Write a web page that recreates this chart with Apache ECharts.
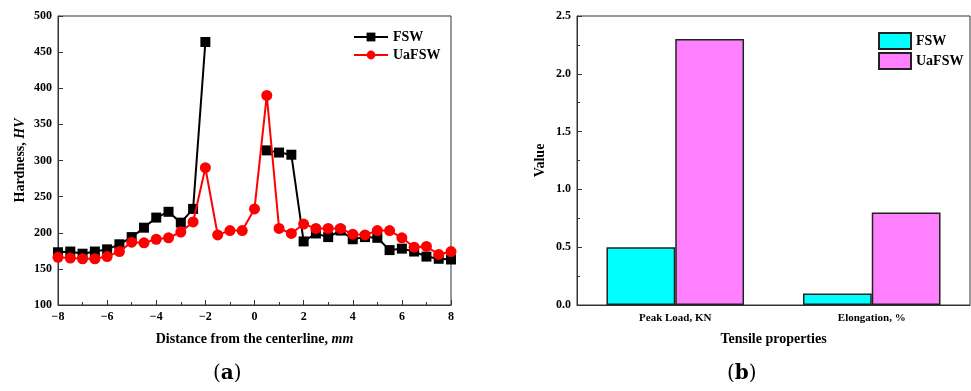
<!DOCTYPE html>
<html>
<head>
<meta charset="utf-8">
<script src="https://cdn.jsdelivr.net/npm/echarts@6/dist/echarts.min.js"></script>
<style>
html,body{margin:0;padding:0;background:#fff;}
#chart{width:971px;height:391px;}
</style>
</head>
<body>
<div id="chart"></div>
<script>
// ---- Data ----
var distances = [-8,-7.5,-7,-6.5,-6,-5.5,-5,-4.5,-4,-3.5,-3,-2.5,-2,-1.5,-1,-0.5,0,0.5,1,1.5,2,2.5,3,3.5,4,4.5,5,5.5,6,6.5,7,7.5,8];
var hardnessFSW = [173,174,171,174,177,184,194,207,221,229,214,233,464,null,null,null,null,314,311,308,188,199,194,203,191,194,193,176,178,174,167,164,163];
var hardnessUaFSW = [166,165,164,164,167,174,187,186,191,193,201,215,290,197,203,203,233,390,206,199,212,206,206,206,198,197,203,203,193,180,181,170,174];
var tensileCategories = ['Peak Load, KN', 'Elongation, %'];
var tensileFSW = [0.5, 0.1];
var tensileUaFSW = [2.3, 0.8];
var seriesNames = ['FSW', 'UaFSW'];

function pairs(xs, ys) {
  return xs.map(function (x, i) { return [x, ys[i]]; });
}

var FONT = 'Liberation Serif';
var AXIS_COLOR = '#333';
var labelStyle = { color: '#000', fontFamily: FONT, fontWeight: 'bold', fontSize: 12 };
var nameStyle = {
  color: '#000', fontFamily: FONT, fontWeight: 'bold', fontSize: 14,
  rich: { i: { fontFamily: FONT, fontWeight: 'bold', fontStyle: 'italic', fontSize: 14, color: '#000' } }
};
var legendText = { color: '#000', fontFamily: FONT, fontWeight: 'bold', fontSize: 14 };

var chart = echarts.init(document.getElementById('chart'), null, { renderer: 'canvas' });
chart.setOption({
  animation: false,
  backgroundColor: '#fff',
  grid: [
    { left: 58, top: 16, width: 393, height: 289, show: true, borderColor: AXIS_COLOR, borderWidth: 1, backgroundColor: 'transparent' },
    { left: 577, top: 16, width: 393, height: 289, show: true, borderColor: AXIS_COLOR, borderWidth: 1, backgroundColor: 'transparent' }
  ],
  legend: [
    {
      data: seriesNames.map(function (n) { return { name: n }; }),
      orient: 'vertical', left: 348, top: 25,
      itemWidth: 34, itemHeight: 11, itemGap: 4,
      textStyle: legendText
    },
    {
      data: seriesNames.map(function (n) { return { name: n + ' ', icon: 'rect' }; }),
      orient: 'vertical', left: 873, top: 27,
      itemWidth: 32, itemHeight: 16, itemGap: 2,
      formatter: function (n) { return n.trim(); },
      textStyle: legendText
    }
  ],
  xAxis: [
    {
      gridIndex: 0, type: 'value', min: -8, max: 8, interval: 2,
      name: 'Distance from the centerline, {i|mm}', nameLocation: 'middle', nameGap: 27,
      nameTextStyle: nameStyle,
      axisLine: { show: true, onZero: false, lineStyle: { color: AXIS_COLOR, width: 1 } },
      axisTick: { show: true, inside: true, length: 5, lineStyle: { color: AXIS_COLOR } },
      minorTick: { show: true, splitNumber: 2, length: 3, lineStyle: { color: AXIS_COLOR } },
      splitLine: { show: false },
      axisLabel: Object.assign({ margin: 6, formatter: function (v) { return v < 0 ? '\u2212' + Math.abs(v) : String(v); } }, labelStyle)
    },
    {
      gridIndex: 1, type: 'category', data: tensileCategories,
      name: 'Tensile properties', nameLocation: 'middle', nameGap: 27,
      nameTextStyle: nameStyle,
      axisLine: { show: true, onZero: false, lineStyle: { color: AXIS_COLOR, width: 1 } },
      axisTick: { show: false },
      splitLine: { show: false },
      axisLabel: Object.assign({ margin: 8 }, labelStyle, { fontSize: 11 })
    }
  ],
  yAxis: [
    {
      gridIndex: 0, type: 'value', min: 100, max: 500, interval: 50,
      name: 'Hardness, {i|HV}', nameLocation: 'middle', nameGap: 31,
      nameTextStyle: nameStyle,
      axisLine: { show: true, onZero: false, lineStyle: { color: AXIS_COLOR, width: 1 } },
      axisTick: { show: true, inside: true, length: 5, lineStyle: { color: AXIS_COLOR } },
      splitLine: { show: false },
      axisLabel: Object.assign({ margin: 6 }, labelStyle)
    },
    {
      gridIndex: 1, type: 'value', min: 0, max: 2.5, interval: 0.5,
      name: 'Value', nameLocation: 'middle', nameGap: 30,
      nameTextStyle: nameStyle,
      axisLine: { show: true, onZero: false, lineStyle: { color: AXIS_COLOR, width: 1 } },
      axisTick: { show: true, inside: true, length: 5, lineStyle: { color: AXIS_COLOR } },
      minorTick: { show: true, splitNumber: 2, length: 3, lineStyle: { color: AXIS_COLOR } },
      splitLine: { show: false },
      axisLabel: Object.assign({ margin: 6, formatter: function (v) { return v.toFixed(1); } }, labelStyle)
    }
  ],
  series: [
    {
      name: seriesNames[0], type: 'line', xAxisIndex: 0, yAxisIndex: 0,
      data: pairs(distances, hardnessFSW), connectNulls: false,
      symbol: 'rect', symbolSize: 10,
      lineStyle: { color: '#000', width: 2 }, itemStyle: { color: '#000' },
      z: 2
    },
    {
      name: seriesNames[1], type: 'line', xAxisIndex: 0, yAxisIndex: 0,
      data: pairs(distances, hardnessUaFSW),
      symbol: 'circle', symbolSize: 11,
      lineStyle: { color: '#ff0000', width: 2 }, itemStyle: { color: '#ff0000' },
      z: 3
    },
    {
      name: seriesNames[0] + ' ', type: 'bar', xAxisIndex: 1, yAxisIndex: 1,
      data: tensileFSW, barGap: '0%', barCategoryGap: '30%',
      itemStyle: { color: '#00ffff', borderColor: '#222', borderWidth: 1.5 }
    },
    {
      name: seriesNames[1] + ' ', type: 'bar', xAxisIndex: 1, yAxisIndex: 1,
      data: tensileUaFSW, barGap: '0%', barCategoryGap: '30%',
      itemStyle: { color: '#ff80ff', borderColor: '#222', borderWidth: 1.5 }
    }
  ],
  graphic: [
    {
      type: 'text', left: 213, top: 364,
      style: {
        text: '({b|a})', fontFamily: 'DejaVu Serif', fontSize: 20, fill: '#000',
        rich: { b: { fontFamily: 'DejaVu Serif', fontWeight: 'bold', fontSize: 20, fill: '#000' } }
      }
    },
    {
      type: 'text', left: 727, top: 364,
      style: {
        text: '({b|b})', fontFamily: 'DejaVu Serif', fontSize: 20, fill: '#000',
        rich: { b: { fontFamily: 'DejaVu Serif', fontWeight: 'bold', fontSize: 20, fill: '#000' } }
      }
    }
  ]
});
</script>
</body>
</html>
